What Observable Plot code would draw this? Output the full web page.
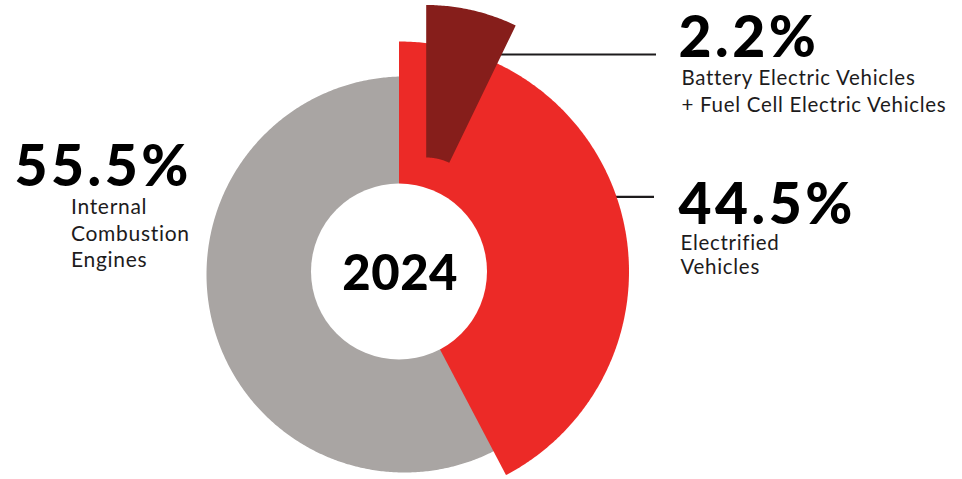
<!DOCTYPE html>
<html><head><meta charset="utf-8">
<script src="https://cdn.jsdelivr.net/npm/d3@7"></script>
<script src="https://cdn.jsdelivr.net/npm/@observablehq/plot@0.6"></script>
<style>html,body{margin:0;padding:0;background:#fff}#chart svg{display:block}</style>
</head><body><div id="chart"></div>
<script>
// ---- data ----
const categories = ["Internal Combustion Engines", "Electrified Vehicles", "Battery Electric Vehicles + Fuel Cell Electric Vehicles"];
const shares = [55.5, 44.5, 2.2];
const valueLabels = ["55.5%", "44.5%", "2.2%"];
const descLabels = ["Internal\nCombustion\nEngines", "Electrified\nVehicles", "Battery Electric Vehicles\n+ Fuel Cell Electric Vehicles"];
const centerLabel = "2024";

// ---- style / layout ----
const W = 962, H = 479;
const colors = ["#a9a5a3", "#ec2a27", "#861e1b"];
const ink = "#1d1b1c";
const C = {x: 398.5, y: 271};
const R_RED = 230, R_HOLE = 88;
const GRAY = {x: 404, y: 274, r: 198};
const WEDGE = {x: 425.7, y: 210, rIn: 53, rOut: 205.5, mag: 3.26};

function pt(cx, cy, r, deg) {
  const a = deg * Math.PI / 180;
  return {x: cx + r * Math.sin(a), y: cy - r * Math.cos(a)};
}
function arc(cx, cy, r, a0, a1) {
  const n = Math.max(2, Math.ceil(Math.abs(a1 - a0) / 0.5));
  return d3.range(n + 1).map(i => pt(cx, cy, r, a0 + (a1 - a0) * i / n));
}

const redEnd = (shares[1] - shares[2]) / 100 * 360;
const wedgeSpan = shares[2] / 100 * 360 * WEDGE.mag;

const grayPoly = [{x: GRAY.x, y: GRAY.y}, ...arc(GRAY.x, GRAY.y, GRAY.r, redEnd, 360), {x: GRAY.x, y: GRAY.y}];
const redPoly = [{x: C.x, y: C.y}, ...arc(C.x, C.y, R_RED, 0, redEnd), {x: C.x, y: C.y}];
const wedgePoly = [...arc(WEDGE.x, WEDGE.y, WEDGE.rIn, 0, wedgeSpan), ...arc(WEDGE.x, WEDGE.y, WEDGE.rOut, wedgeSpan, 0)];
wedgePoly.push(wedgePoly[0]);

const leaders = [
  {y: 54, x1: 490, x2: 656},
  {y: 196.3, x1: 600, x2: 654}
];

const bigText = [
  {x: 14, y: 185, t: valueLabels[0]},
  {x: 678, y: 223.3, t: valueLabels[1]},
  {x: 678, y: 56.7, t: valueLabels[2]}
];
const smallText = [
  {x: 70.5, y: 266.7, t: descLabels[0], lh: 1.27, fs: 21},
  {x: 680, y: 273.3, t: descLabels[1], lh: 1.14, fs: 20.5},
  {x: 681, y: 111.7, t: descLabels[2], lh: 1.34, fs: 20.5}
];

const chart = Plot.plot({
  width: W, height: H, margin: 0,
  x: {domain: [0, W], range: [0, W], axis: null},
  y: {domain: [0, H], range: [0, H], axis: null},
  marks: [
    Plot.ruleY([leaders[1]], {y: "y", x1: "x1", x2: "x2", stroke: ink, strokeWidth: 2.2}),
    Plot.line(grayPoly, {x: "x", y: "y", fill: colors[0], stroke: "none"}),
    Plot.line(redPoly, {x: "x", y: "y", fill: colors[1], stroke: "none"}),
    Plot.dot([C], {x: "x", y: "y", r: R_HOLE, fill: "white", stroke: "none"}),
    Plot.ruleY([leaders[0]], {y: "y", x1: "x1", x2: "x2", stroke: ink, strokeWidth: 2.2}),
    Plot.line(wedgePoly, {x: "x", y: "y", fill: colors[2], stroke: "none"}),
    Plot.text(bigText, {x: "x", y: "y", text: "t", textAnchor: "start", lineAnchor: "bottom",
      fontFamily: "Lato", fontWeight: 900, fontSize: 57, fill: "#000"}),
    ...smallText.map(d => Plot.text([d], {x: "x", y: "y", text: "t", textAnchor: "start", lineAnchor: "bottom",
      lineHeight: d.lh, fontFamily: "Lato", fontWeight: 400, fontSize: d.fs, fill: ink})),
    Plot.text([{x: 399.7, y: 289.3, t: centerLabel}], {x: "x", y: "y", text: "t", textAnchor: "middle", lineAnchor: "bottom",
      fontFamily: "Lato", fontWeight: 900, fontSize: 49, fill: "#000"})
  ]
});
// letter-spacing tweaks to match the reference's wider typeface
d3.select(chart).selectAll("g[font-size='57']").attr("letter-spacing", "3.5px");
d3.select(chart).selectAll("g[font-size='20.5'], g[font-size='21']").attr("letter-spacing", "0.7px");
d3.select(chart).selectAll("g[font-size='49']").attr("letter-spacing", "0.5px");
document.getElementById("chart").appendChild(chart);
</script>
</body></html>
